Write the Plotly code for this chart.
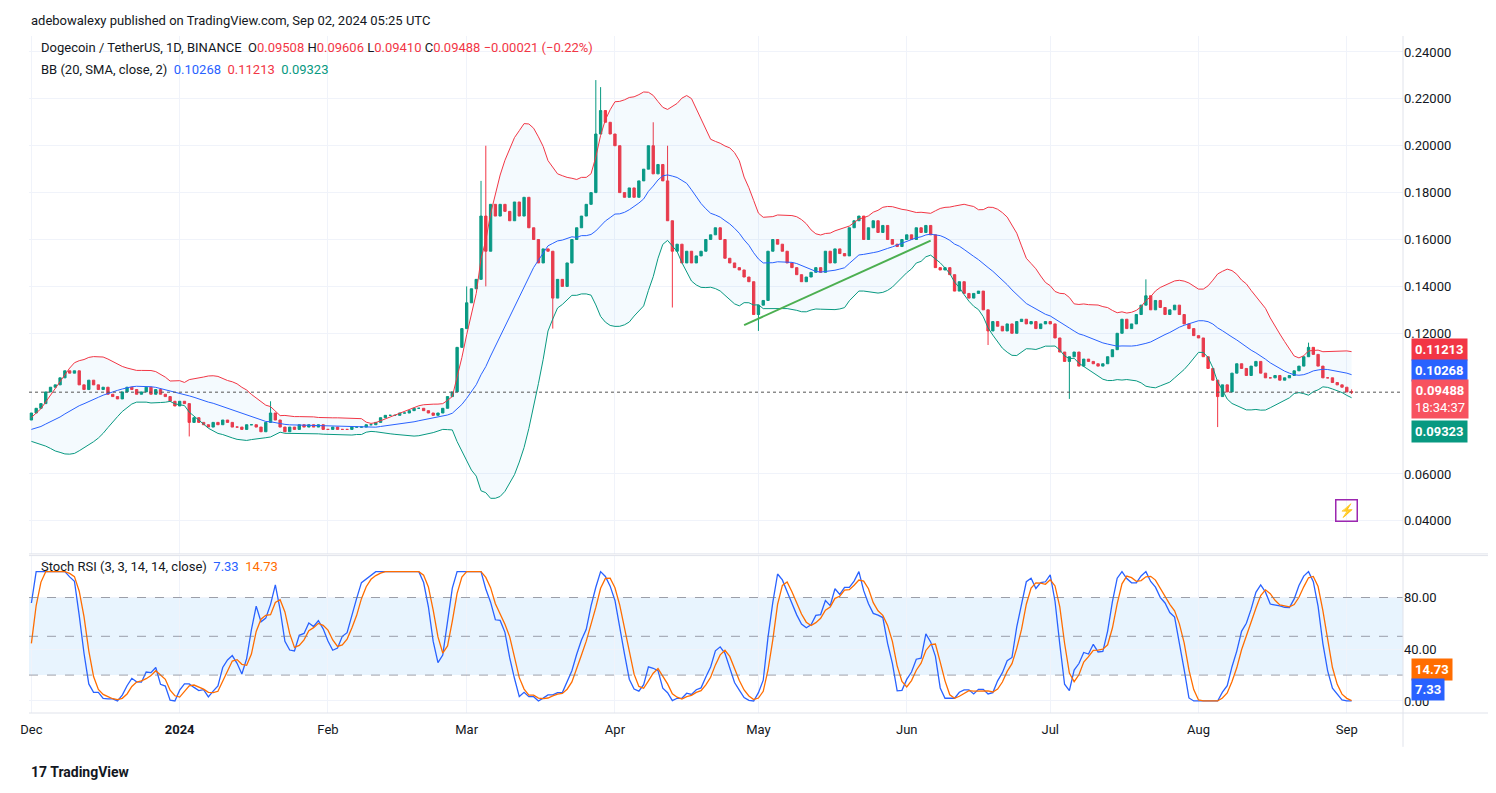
import numpy as np, pandas as pd
import plotly.graph_objects as go
from plotly.subplots import make_subplots

start = "2023-11-01"
closes = [
 0.068,0.069,0.069,0.070,0.071,0.072,0.074,0.073,0.076,0.076,0.078,0.077,0.076,0.074,0.077,0.082,0.077,0.078,0.079,0.078,
 0.078,0.079,0.080,0.079,0.080,0.079,0.078,0.079,0.081,0.083,
 # Dec
 0.086,0.088,0.090,0.095,0.097,0.098,0.101,0.104,0.103,0.104,0.098,0.096,0.100,0.098,0.096,0.097,0.094,0.093,0.092,0.095,
 0.097,0.096,0.094,0.095,0.097,0.094,0.096,0.094,0.093,0.091,0.089,
 # Jan
 0.091,0.090,0.082,0.084,0.082,0.081,0.080,0.082,0.081,0.083,0.082,0.080,0.080,0.079,0.081,0.081,0.080,0.078,0.082,0.086,
 0.083,0.080,0.078,0.080,0.079,0.081,0.080,0.081,0.080,0.081,0.079,
 # Feb
 0.079,0.080,0.079,0.079,0.079,0.080,0.080,0.080,0.081,0.081,0.082,0.084,0.085,0.085,0.085,0.086,0.086,0.087,0.088,0.088,
 0.087,0.086,0.085,0.086,0.088,0.093,0.095,0.114,0.122,
 # Mar
 0.133,0.139,0.143,0.170,0.155,0.175,0.170,0.175,0.172,0.168,0.176,0.170,0.178,0.165,0.160,0.150,0.156,0.155,0.135,0.143,
 0.140,0.150,0.160,0.165,0.170,0.175,0.180,0.205,0.215,0.210,0.205,
 # Apr
 0.200,0.180,0.178,0.182,0.178,0.185,0.190,0.200,0.188,0.192,0.185,0.168,0.155,0.158,0.150,0.155,0.150,0.153,0.155,0.160,
 0.162,0.165,0.160,0.152,0.150,0.148,0.147,0.144,0.142,0.128,
 # May
 0.132,0.134,0.155,0.160,0.158,0.155,0.150,0.148,0.145,0.142,0.144,0.146,0.148,0.146,0.155,0.150,0.156,0.154,0.153,0.165,
 0.168,0.170,0.160,0.165,0.168,0.163,0.166,0.160,0.158,0.157,0.160,
 # Jun
 0.162,0.160,0.165,0.163,0.166,0.162,0.148,0.147,0.148,0.145,0.138,0.142,0.137,0.135,0.137,0.138,0.130,0.121,0.125,0.123,
 0.121,0.124,0.120,0.125,0.126,0.124,0.125,0.122,0.124,0.125,
 # Jul
 0.124,0.118,0.112,0.108,0.110,0.112,0.106,0.109,0.108,0.107,0.106,0.107,0.110,0.113,0.120,0.126,0.122,0.124,0.128,0.132,
 0.136,0.130,0.134,0.131,0.128,0.130,0.132,0.128,0.124,0.122,0.119,
 # Aug
 0.118,0.110,0.105,0.100,0.093,0.098,0.095,0.103,0.107,0.105,0.102,0.106,0.108,0.103,0.101,0.101,0.102,0.100,0.101,0.102,
 0.104,0.106,0.110,0.114,0.111,0.106,0.101,0.101,0.099,0.098,0.097,
 # Sep
 0.095,0.09488]
high_override = {"2024-01-20":0.091,"2024-03-01":0.140,"2024-03-04":0.185,"2024-03-05":0.200,"2024-03-28":0.228,
                 "2024-03-29":0.225,"2024-04-09":0.210,"2024-04-12":0.200,"2024-07-21":0.143,"2024-08-24":0.116,
                 "2024-09-02":0.09606}
low_override = {"2024-01-03":0.076,"2024-03-05":0.140,"2024-03-19":0.122,"2024-04-13":0.131,"2024-05-01":0.121,
                "2024-06-11":0.140,"2024-06-18":0.115,"2024-07-05":0.092,"2024-08-05":0.080,"2024-09-02":0.09410}

price_ticks = [0.04, 0.06, 0.12, 0.14, 0.16, 0.18, 0.20, 0.22, 0.24]
stoch_ticks = [0, 40, 80]
months = ["2023-12-01","2024-01-01","2024-02-01","2024-03-01","2024-04-01","2024-05-01","2024-06-01","2024-07-01","2024-08-01","2024-09-01"]
mlab = ["Dec","<b>2024</b>","Feb","Mar","Apr","May","Jun","Jul","Aug","Sep"]

dates = pd.date_range(start, periods=len(closes), freq="D")
c = pd.Series(closes, index=dates)
o = c.shift(1).fillna(c.iloc[0])
o.iloc[-1] = 0.09508
h = np.maximum(o, c); l = np.minimum(o, c)
for k, v in high_override.items(): h[pd.Timestamp(k)] = v
for k, v in low_override.items(): l[pd.Timestamp(k)] = v

mid = c.rolling(20).mean(); sd = c.rolling(20).std(ddof=0)
up = mid + 2*sd; lo = mid - 2*sd
d = c.diff(); g = d.clip(lower=0).ewm(alpha=1/14, adjust=False).mean(); ls = (-d.clip(upper=0)).ewm(alpha=1/14, adjust=False).mean()
rsi = 100 - 100/(1+g/ls)
st = (rsi - rsi.rolling(14).min())/(rsi.rolling(14).max()-rsi.rolling(14).min())*100
K = st.rolling(3).mean(); D = K.rolling(3).mean()

m = dates >= "2023-12-01"
UPC, DNC = "#089981", "#F23645"
fig = make_subplots(rows=2, cols=1, shared_xaxes=True)
fig.add_trace(go.Scatter(x=dates[m], y=up[m], line=dict(color="#F23645", width=1), showlegend=False), 1, 1)
fig.add_trace(go.Scatter(x=dates[m], y=lo[m], line=dict(color="#089981", width=1), fill="tonexty",
                         fillcolor="rgba(33,150,243,0.05)", showlegend=False), 1, 1)
fig.add_trace(go.Scatter(x=dates[m], y=mid[m], line=dict(color="#2962FF", width=1), showlegend=False), 1, 1)
fig.add_trace(go.Candlestick(x=dates[m], open=o[m], high=h[m], low=l[m], close=c[m],
    increasing=dict(line=dict(color=UPC, width=1), fillcolor=UPC),
    decreasing=dict(line=dict(color=DNC, width=1), fillcolor=DNC), showlegend=False), 1, 1)
fig.add_trace(go.Scatter(x=["2024-04-28", "2024-06-06"], y=[0.1235, 0.1595], mode="lines",
                         line=dict(color="#4CAF50", width=2), showlegend=False), 1, 1)
fig.add_trace(go.Scatter(x=dates[m], y=K[m], line=dict(color="#2962FF", width=1.3), showlegend=False), 2, 1)
fig.add_trace(go.Scatter(x=dates[m], y=D[m], line=dict(color="#FF6D00", width=1.3), showlegend=False), 2, 1)

shapes = [
    dict(type="line", xref="x domain", x0=0, x1=1, yref="y", y0=0.09488, y1=0.09488, line=dict(color="#555", width=1, dash="dot")),
    dict(type="rect", xref="x2 domain", x0=0, x1=1, yref="y2", y0=20, y1=80, fillcolor="rgba(33,150,243,0.1)", line_width=0, layer="below"),
]
for v in [20, 50, 80]:
    shapes.append(dict(type="line", xref="x2 domain", x0=0, x1=1, yref="y2", y0=v, y1=v,
                       line=dict(color="rgba(120,123,134,0.7)", width=1, dash="dash")))
for y in [0.0, 0.2325, 0.235]:
    shapes.append(dict(type="line", xref="paper", x0=0, x1=1.073, yref="paper", y0=y, y1=y, line=dict(color="#E0E3EB", width=1)))
shapes.append(dict(type="line", xref="paper", x0=1.0, x1=1.0, yref="paper", y0=-0.05, y1=1, line=dict(color="#E0E3EB", width=1)))
fig.update_layout(shapes=shapes)

xr = ["2023-11-30 12:00", "2024-09-12 18:00"]
gc = "#F0F3FA"
fig.update_xaxes(range=xr, rangeslider_visible=False, showgrid=True, gridcolor=gc, tickvals=months, ticktext=mlab,
                 tickfont=dict(size=13, color="#131722"), ticks="", zeroline=False, ticklabelstandoff=7)
fig.update_xaxes(showticklabels=False, row=1, col=1)
fig.update_yaxes(side="right", range=[0.0259, 0.2468], tickvals=price_ticks,
                 tickformat=".5f", showgrid=True, gridcolor=gc, tickfont=dict(size=13, color="#131722"), row=1, col=1)
fig.update_yaxes(side="right", range=[-9.3, 112.4], tickvals=stoch_ticks, tickformat=".2f", showgrid=True, gridcolor=gc,
                 tickfont=dict(size=13, color="#131722"), zeroline=False, row=2, col=1)
fig.update_layout(yaxis=dict(domain=[0.235, 1]), yaxis2=dict(domain=[0, 0.2325]))

F = "Roboto"
def box(y, txt, col, yref="y", fc="white"):
    fig.add_annotation(x=1.0, xref="paper", y=y, yref=yref, text=txt, showarrow=False, xanchor="left",
                       bgcolor=col, font=dict(color=fc, size=13, family=F), borderpad=3, xshift=8)
box(0.1129, "<b>0.11213</b>", "#F23645")
box(0.1040, "<b>0.10268</b>", "#2962FF")
box(0.0920, "<b>0.09488</b><br>18:34:37", "#F7525F")
box(0.0780, "<b>0.09323</b>", "#089981")
box(24.0, "<b>14.73</b>", "#FF6D00", "y2")
box(9.0, "<b>7.33</b>", "#2962FF", "y2")

red = "#F23645"
hdr = ("Dogecoin / TetherUS, 1D, BINANCE  O<span style='color:%s'>0.09508</span> "
       "H<span style='color:%s'>0.09606</span> L<span style='color:%s'>0.09410</span> C<span style='color:%s'>0.09488 −0.00021 (−0.22%%)</span>") % (red, red, red, red)
fig.add_annotation(x=0.007, xref="paper", y=1.0, yref="paper", yshift=-2, text=hdr, showarrow=False, xanchor="left", yanchor="top",
                   font=dict(size=13, color="#131722", family=F))
fig.add_annotation(x=0.007, xref="paper", y=0.968, yref="paper", yshift=-2,
                   text="BB (20, SMA, close, 2)  <span style='color:#2962FF'>0.10268</span>  <span style='color:#F23645'>0.11213</span>  <span style='color:#089981'>0.09323</span>",
                   showarrow=False, xanchor="left", yanchor="top", font=dict(size=13, color="#131722", family=F))
fig.add_annotation(x=0.007, xref="paper", y=0.231, yref="paper",
                   text="Stoch RSI (3, 3, 14, 14, close)  <span style='color:#2962FF'>7.33</span>  <span style='color:#FF6D00'>14.73</span>",
                   showarrow=False, xanchor="left", yanchor="top", font=dict(size=13, color="#131722", family=F))
fig.add_annotation(x=0, xref="paper", y=1.0, yref="paper", yshift=16, text="adebowalexy published on TradingView.com, Sep 02, 2024 05:25 UTC",
                   showarrow=False, xanchor="left", yanchor="middle", font=dict(size=13, color="#131722", family=F))
fig.add_annotation(x=0, xref="paper", y=0, yref="paper", yshift=-59, text="<b>17 TradingView</b>",
                   showarrow=False, xanchor="left", yanchor="middle", font=dict(size=14, color="#131722", family=F))
fig.add_annotation(x="2024-09-01", y=0.0445, text="⚡", showarrow=False, font=dict(size=13, color="#9C27B0"),
                   bordercolor="#9C27B0", borderwidth=1.5, borderpad=2, row=1, col=1)

fig.update_layout(width=1496, height=793, margin=dict(l=12, r=101, t=28, b=88), plot_bgcolor="white", paper_bgcolor="white",
                  font=dict(family=F))
fig.write_html("out.html")
